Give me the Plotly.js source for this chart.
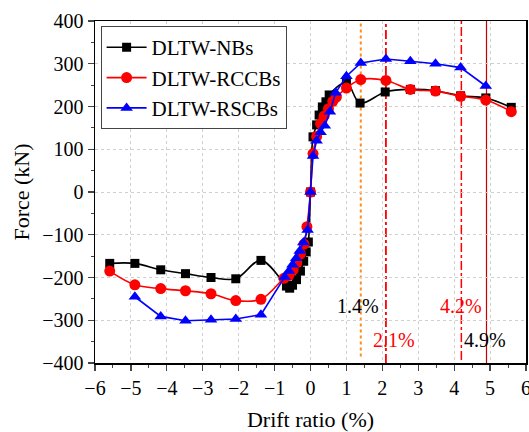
<!DOCTYPE html>
<html>
<head>
<meta charset="utf-8">
<script src="https://cdn.plot.ly/plotly-3.0.1.min.js"></script>
<style>html,body{margin:0;padding:0;background:#fff;}#chart{width:529px;height:432px;}</style>
</head>
<body>
<div id="chart"></div>
<script>
// Series names
const seriesNames = ["DLTW-NBs", "DLTW-RCCBs", "DLTW-RSCBs"];

// DLTW-NBs (black squares)
const nbX = [-5.59, -4.89, -4.17, -3.48, -2.77, -2.08, -1.38, -0.67, -0.58, -0.5, -0.39, -0.28, -0.19, -0.12, -0.06, 0, 0.07, 0.17, 0.24, 0.33, 0.43, 0.52, 1.0, 1.38, 2.08, 2.78, 3.48, 4.18, 4.88, 5.59];
const nbY = [-167, -167, -182, -191, -200, -203, -160, -220, -225, -218, -205, -185, -162, -140, -117, 0, 129, 157, 180, 199, 211, 227, 256, 208, 234, 240, 237, 225, 220, 198];

// DLTW-RCCBs (red circles)
const rcX = [-5.59, -4.89, -4.17, -3.48, -2.77, -2.08, -1.38, -0.74, -0.6, -0.48, -0.38, -0.28, -0.18, -0.1, 0, 0.07, 0.17, 0.28, 0.38, 0.5, 0.62, 0.72, 1.0, 1.4, 2.1, 2.78, 3.48, 4.18, 4.88, 5.59];
const rcY = [-185, -217, -226, -231, -238, -254, -251, -202, -195, -182, -165, -145, -122, -81, 0, 90, 130, 160, 178, 195, 212, 222, 243, 263, 261, 240, 236, 224, 215, 188];

// DLTW-RSCBs (blue triangles)
const rsX = [-4.89, -4.17, -3.48, -2.77, -2.08, -1.38, -0.72, -0.6, -0.5, -0.4, -0.3, -0.2, -0.08, 0, 0.07, 0.17, 0.28, 0.4, 0.54, 0.7, 1.0, 1.4, 2.1, 2.78, 3.48, 4.18, 4.88];
const rsY = [-245, -291, -301, -299, -297, -287, -199, -185, -170, -155, -138, -118, -89, 0, 84, 120, 140, 155, 188, 232, 271, 302, 311, 306, 300, 291, 248];

// Reference drift lines and their labels
const refLineX = [1.4, 2.1, 4.2, 4.9];
const refLabels = ["1.4%", "2.1%", "4.2%", "4.9%"];
const refLabelX = [1.32, 2.33, 4.2, 4.85];
const refLabelY = [-267, -347, -267, -347];

// Axis ticks
const xTicks = [-6, -5, -4, -3, -2, -1, 0, 1, 2, 3, 4, 5, 6];
const yTicks = [-400, -300, -200, -100, 0, 100, 200, 300, 400];

const FONT = '"Liberation Serif", "Times New Roman", serif';

const traces = [
  {x: nbX, y: nbY, name: seriesNames[0], mode: "lines+markers",
   line: {color: "#000000", width: 1.6, shape: "spline"},
   marker: {symbol: "square", size: 9, color: "#000000"}},
  {x: rcX, y: rcY, name: seriesNames[1], mode: "lines+markers",
   line: {color: "#ff0000", width: 1.6, shape: "spline"},
   marker: {symbol: "circle", size: 11, color: "#ff0000"}},
  {x: rsX, y: rsY, name: seriesNames[2], mode: "lines+markers",
   line: {color: "#0000ff", width: 1.6},
   marker: {symbol: "triangle-up", size: 11, color: "#0000ff"}}
];

const lineStyles = [
  {color: "#ff8c1a", width: 2, dash: "dot", y0: -385},
  {color: "#ff0000", width: 1.8, dash: "dashdot", y0: -400},
  {color: "#ff0000", width: 1.5, dash: "dashdot", y0: -393},
  {color: "#c80000", width: 1.2, dash: "solid", y0: -400}
];
const shapes = refLineX.map((v, i) => ({
  type: "line", xref: "x", yref: "y", x0: v, x1: v, y0: lineStyles[i].y0, y1: 400,
  line: {color: lineStyles[i].color, width: lineStyles[i].width, dash: lineStyles[i].dash},
  layer: "below"
}));
const labelColors = ["#000000", "#ff0000", "#ff0000", "#000000"];
const annotations = refLabels.map((t, i) => ({
  x: refLabelX[i], y: refLabelY[i], xref: "x", yref: "y", text: t, showarrow: false,
  font: {family: FONT, size: 20, color: labelColors[i]}
}));

const layout = {
  width: 529, height: 432,
  margin: {l: 95, r: 3, t: 21, b: 69},
  paper_bgcolor: "#ffffff", plot_bgcolor: "#ffffff",
  font: {family: FONT, size: 20, color: "#000000"},
  showlegend: true,
  legend: {x: 0.013, y: 0.985, xanchor: "left", yanchor: "top",
           bgcolor: "#ffffff", bordercolor: "#444444", borderwidth: 1,
           font: {family: FONT, size: 21, color: "#000000"},
           tracegroupgap: 0, itemwidth: 40},
  xaxis: {range: [-6, 6], tickvals: xTicks, ticks: "outside", ticklen: 6, tickwidth: 1.2,
          minor: {dtick: 0.5, ticks: "outside", ticklen: 3, tickwidth: 1, showgrid: false},
          showline: true, linecolor: "#000000", linewidth: 1.5, mirror: true,
          showgrid: true, gridcolor: "#d0d0d0", griddash: "dot", gridwidth: 1,
          zeroline: false, tickfont: {family: FONT, size: 20}, ticklabeloverflow: "allow",
          title: {text: "Drift ratio (%)", font: {family: FONT, size: 22}, standoff: 16}},
  yaxis: {range: [-400, 400], tickvals: yTicks, ticks: "outside", ticklen: 6, tickwidth: 1.2,
          minor: {dtick: 50, ticks: "outside", ticklen: 3, tickwidth: 1, showgrid: false},
          showline: true, linecolor: "#000000", linewidth: 1.5, mirror: true,
          showgrid: true, gridcolor: "#d0d0d0", griddash: "dot", gridwidth: 1,
          zeroline: false, tickfont: {family: FONT, size: 20},
          title: {text: "Force (kN)", font: {family: FONT, size: 22}, standoff: 6}},
  shapes: shapes,
  annotations: annotations
};

Plotly.newPlot("chart", traces, layout, {displayModeBar: false, staticPlot: true});
</script>
</body>
</html>
